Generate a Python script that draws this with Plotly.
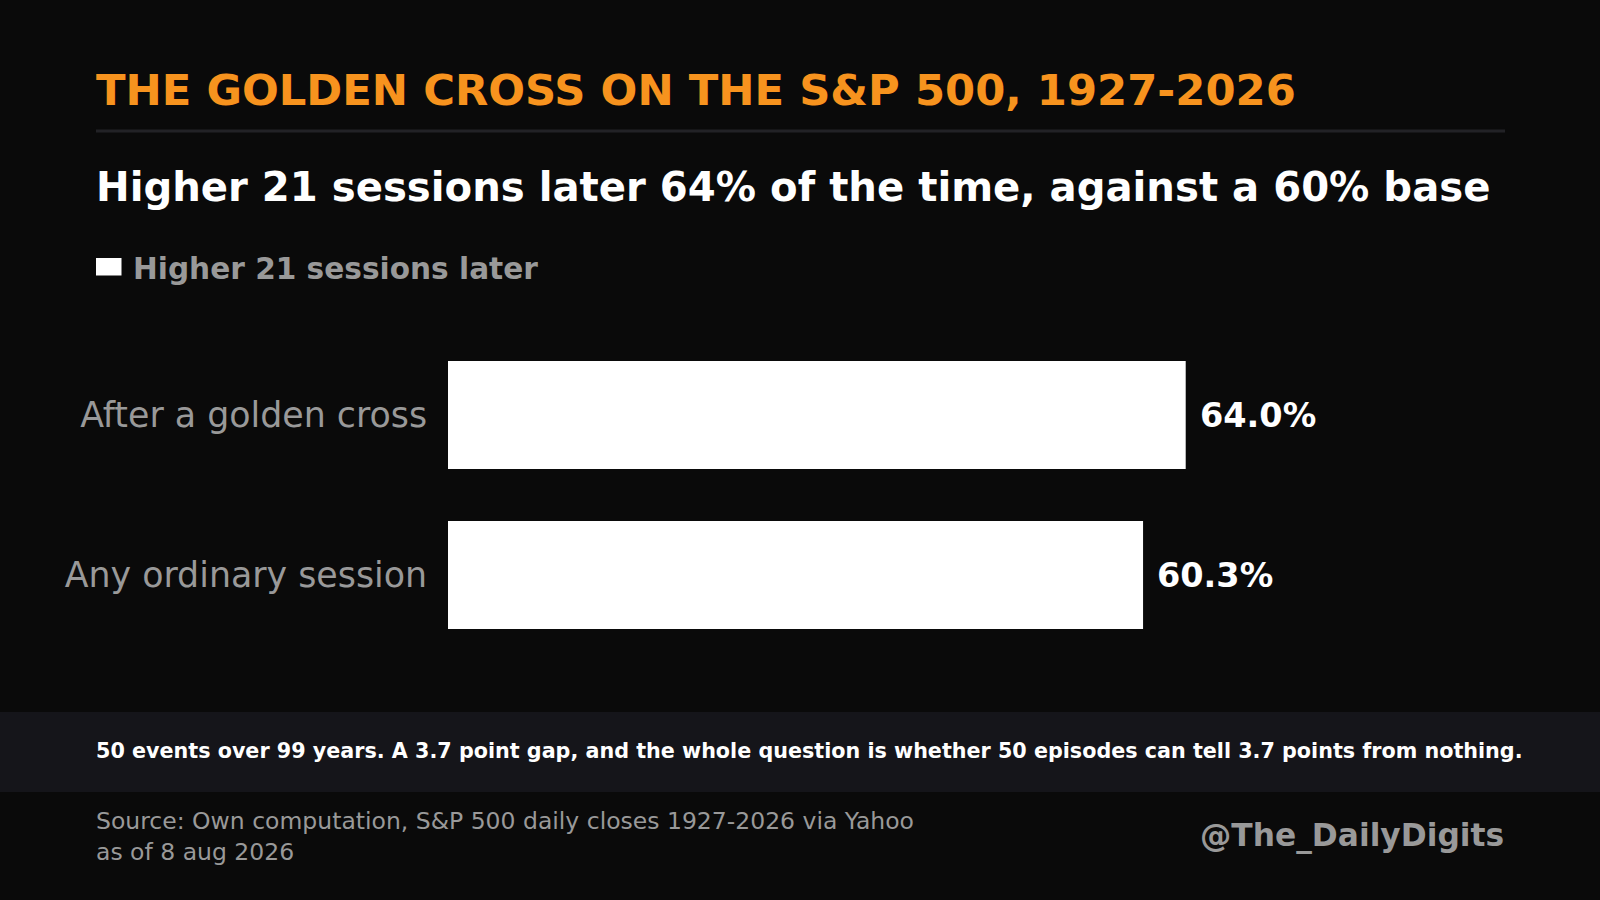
import plotly.graph_objects as go

# data
categories = ["After a golden cross", "Any ordinary session"]
pct_higher = [64.0, 60.3]
value_labels = ["64.0%", "60.3%"]
series_name = "Higher 21 sessions later"

title = "THE GOLDEN CROSS ON THE S&P 500, 1927-2026"
subtitle = "Higher 21 sessions later 64% of the time, against a 60% base"
note = ("50 events over 99 years. A 3.7 point gap, and the whole question is "
        "whether 50 episodes can tell 3.7 points from nothing.")
source = "Source: Own computation, S&P 500 daily closes 1927-2026 via Yahoo<br>as of 8 aug 2026"
handle = "@The_DailyDigits"

BG = "#0a0a0a"
ORANGE = "#f7931e"
GREY = "#999999"
FONT = "DejaVu Sans"
W, H = 1600, 900
LEFT = 94  # text left edge (annotations add a couple px of padding)


def px(x):
    return x / W


def py(y):
    return 1 - y / H


fig = go.Figure()

fig.add_trace(
    go.Bar(
        y=categories,
        x=pct_higher,
        orientation="h",
        name=series_name,
        marker=dict(color="#ffffff", line=dict(width=0)),
        width=0.675,
        showlegend=False,
        hoverinfo="x+y",
    )
)

# value labels next to the bar ends
for cat, val, lab in zip(categories, pct_higher, value_labels):
    fig.add_annotation(
        x=val, y=cat, xref="x", yref="y",
        text=f"<b>{lab}</b>", showarrow=False,
        xanchor="left", yanchor="middle", xshift=12,
        font=dict(family=FONT, size=33.5, color="#ffffff"),
    )

# title, divider, subtitle
fig.add_annotation(
    x=px(LEFT), y=py(90), xref="paper", yref="paper",
    text=f"<b>{title}</b>", showarrow=False, xanchor="left", yanchor="middle",
    font=dict(family=FONT, size=43.3, color=ORANGE),
)
fig.add_shape(
    type="line", xref="paper", yref="paper",
    x0=px(96), x1=px(1505), y0=py(131), y1=py(131),
    line=dict(color="#222226", width=3),
)
fig.add_annotation(
    x=px(LEFT), y=py(187), xref="paper", yref="paper",
    text=f"<b>{subtitle}</b>", showarrow=False, xanchor="left", yanchor="middle",
    font=dict(family=FONT, size=40.2, color="#ffffff"),
)

# legend swatch + label
fig.add_shape(
    type="rect", xref="paper", yref="paper",
    x0=px(96), x1=px(121.5), y0=py(258), y1=py(275.5),
    fillcolor="#ffffff", line=dict(width=0),
)
fig.add_annotation(
    x=px(131), y=py(269), xref="paper", yref="paper",
    text=f"<b>{series_name}</b>", showarrow=False, xanchor="left", yanchor="middle",
    font=dict(family=FONT, size=29.6, color=GREY),
)

# footer band with note
fig.add_shape(
    type="rect", xref="paper", yref="paper",
    x0=0, x1=1, y0=py(792), y1=py(712),
    fillcolor="#15151a", line=dict(width=0), layer="below",
)
fig.add_annotation(
    x=px(LEFT), y=py(751), xref="paper", yref="paper",
    text=f"<b>{note}</b>", showarrow=False, xanchor="left", yanchor="middle",
    font=dict(family=FONT, size=20.7, color="#ffffff"),
)

# source + handle
fig.add_annotation(
    x=px(LEFT), y=py(836), xref="paper", yref="paper",
    text=source, showarrow=False, xanchor="left", yanchor="middle", align="left",
    font=dict(family=FONT, size=23.5, color=GREY),
)
fig.add_annotation(
    x=px(1506), y=py(835), xref="paper", yref="paper",
    text=f"<b>{handle}</b>", showarrow=False, xanchor="right", yanchor="middle",
    font=dict(family=FONT, size=31.3, color=GREY),
)

fig.update_layout(
    width=W, height=H,
    paper_bgcolor=BG, plot_bgcolor=BG,
    margin=dict(l=0, r=0, t=0, b=0),
    font=dict(family=FONT, color=GREY),
    showlegend=False,
    bargap=0.325,
)
fig.update_xaxes(
    domain=[px(448), px(1505)], range=[0, 91.7],
    visible=False, fixedrange=True,
)
fig.update_yaxes(
    domain=[py(655), py(335)], range=[1.5, -0.5],
    categoryorder="array", categoryarray=categories,
    showgrid=False, zeroline=False, showline=False,
    ticks="outside", ticklen=13, tickcolor=BG,
    tickfont=dict(family=FONT, size=34.8, color=GREY),
    fixedrange=True,
)

# drop the page's default body margin so the 1600x900 figure fills the window
fig.write_html(
    "out.html",
    config={"displayModeBar": False},
    post_script="document.body.style.margin = '0';",
)
